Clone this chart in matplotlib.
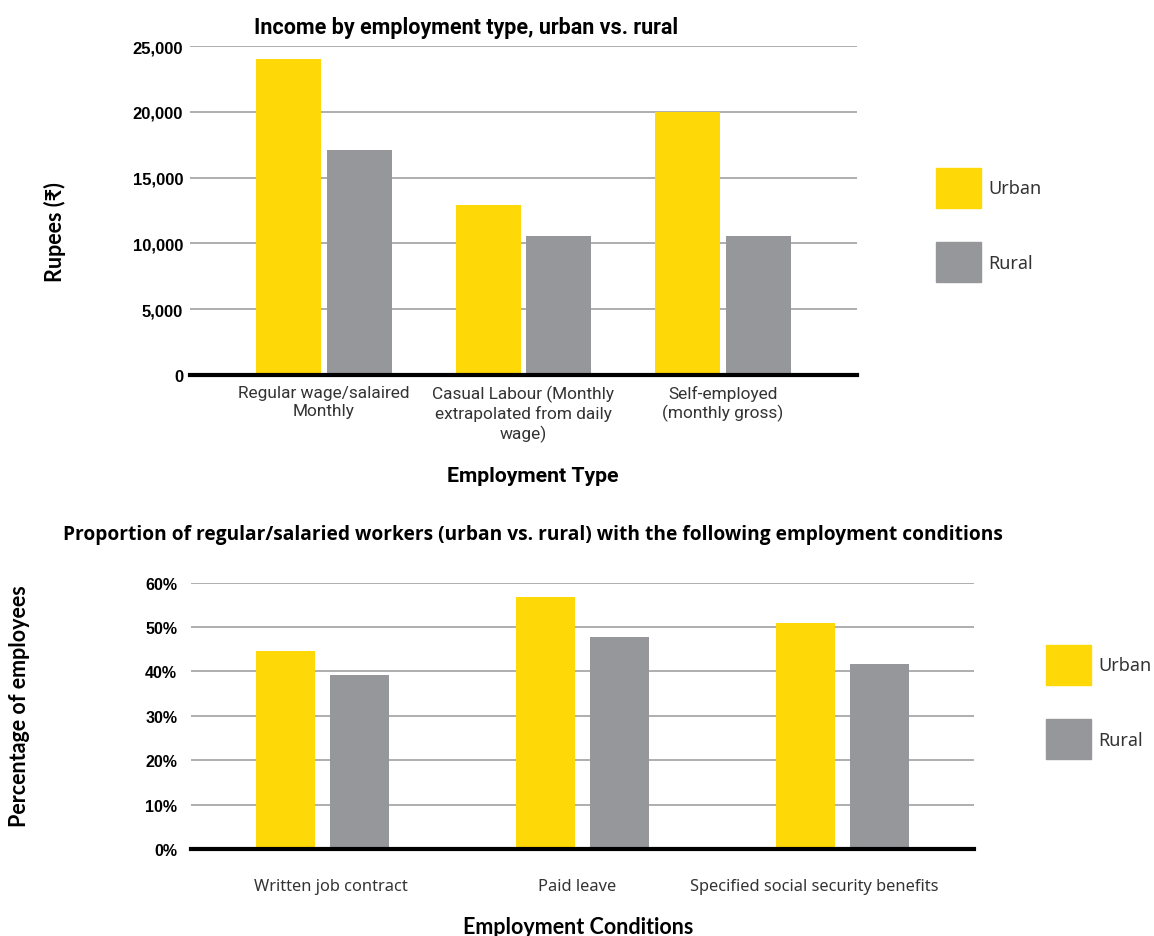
import numpy as np
import matplotlib
matplotlib.use("Agg")
import matplotlib.pyplot as plt
import matplotlib.patches as mpatches
import matplotlib.ticker as mticker

# data
income_types = ["Regular wage/salaired\nMonthly",
                "Casual Labour (Monthly\nextrapolated from daily\nwage)",
                "Self-employed\n(monthly gross)"]
urban_income = [24000, 12900, 20000]
rural_income = [17100, 10600, 10600]
income_ticks = [0, 5000, 10000, 15000, 20000, 25000]

conditions = ["Written job contract", "Paid leave", "Specified social security benefits"]
urban_pct = [44.5, 56.8, 50.9]
rural_pct = [39.1, 47.8, 41.6]
pct_ticks = [0, 10, 20, 30, 40, 50, 60]

series_names = ["Urban", "Rural"]
YELLOW = "#FFD808"
GREY = "#96979A"
GRID = "#A8A8A8"
W, H = 1154, 937

fig = plt.figure(figsize=(W / 100, H / 100), dpi=100)


def style_axes(ax):
    for s in ["top", "right", "left"]:
        ax.spines[s].set_visible(False)
    ax.spines["bottom"].set_linewidth(3)
    ax.spines["bottom"].set_color("black")
    ax.spines["bottom"].set_zorder(5)
    ax.yaxis.grid(True, color=GRID, linewidth=1.3)
    ax.set_axisbelow(True)
    ax.tick_params(axis="both", length=0)


def add_legend(ax, anchor):
    handles = [mpatches.Patch(color=YELLOW, label=series_names[0]),
               mpatches.Patch(color=GREY, label=series_names[1])]
    ax.legend(handles=handles, loc="upper left", bbox_to_anchor=anchor,
              bbox_transform=fig.transFigure, frameon=False,
              prop={"family": "Noto Sans", "size": 13},
              labelcolor="#333333", handlelength=2.5, handleheight=3.04,
              labelspacing=1.89, handletextpad=0.4, borderpad=0,
              borderaxespad=0)


# ---- top chart: income ----
ax1 = fig.add_axes([190 / W, 1 - 376 / H, 667 / W, 329 / H])
x1 = np.arange(len(income_types))
bw1, off1 = 0.326, 0.176
ax1.bar(x1 - off1, urban_income, bw1, color=YELLOW)
ax1.bar(x1 + off1, rural_income, bw1, color=GREY)
ax1.set_xlim(-0.672, 2.672)
ax1.set_ylim(0, 25000)
style_axes(ax1)
ax1.set_yticks(income_ticks)
ax1.yaxis.set_major_formatter(mticker.FuncFormatter(lambda v, p: f"{int(v):,}"))
for t in ax1.get_yticklabels():
    t.set_fontfamily("Liberation Sans")
    t.set_fontweight("bold")
    t.set_fontsize(12)
ax1.tick_params(axis="y", pad=5)
ax1.set_xticks(x1)
ax1.set_xticklabels(income_types, family="Roboto", fontsize=12.4,
                    color="#333333", linespacing=1.25)
ax1.tick_params(axis="x", pad=7)
add_legend(ax1, (936 / W, 1 - 169 / H))

fig.text(254 / W, 1 - 28 / H, "Income by employment type, urban vs. rural",
         family="Roboto", weight="bold", fontsize=15.5, ha="left", va="center")
fig.text(533 / W, 1 - 477 / H, "Employment Type", family="Roboto",
         weight="bold", fontsize=15.3, ha="center", va="center")
fig.text(55 / W, 1 - 232 / H, "Rupees (₹)", family=["Lato", "Noto Sans", "DejaVu Sans"],
         weight="bold", fontsize=15.5, rotation=90, ha="center", va="center")

# ---- bottom chart: employment conditions ----
ax2 = fig.add_axes([191 / W, 1 - 850 / H, 783 / W, 266.3 / H])
x2 = np.arange(len(conditions))
bw2, off2 = 0.227, 0.142
ax2.bar(x2 - off2, urban_pct, bw2, color=YELLOW)
ax2.bar(x2 + off2, rural_pct, bw2, color=GREY)
ax2.set_xlim(-0.504, 2.504)
ax2.set_ylim(0, 60)
style_axes(ax2)
ax2.set_yticks(pct_ticks)
ax2.set_yticklabels([f"{v}%" for v in pct_ticks], family="Liberation Sans",
                    weight="bold", fontsize=11.5)
ax2.tick_params(axis="y", pad=10)
# labels in the reference sit a little off the group centres
ax2.set_xticks(x2 + np.array([0.033, -0.02, -0.109]))
ax2.set_xticklabels(conditions, family="Noto Sans", fontsize=11.8, color="#333333")
ax2.tick_params(axis="x", pad=21)
add_legend(ax2, (1046 / W, 1 - 646 / H))

fig.text(63 / W, 1 - 535 / H,
         "Proportion of regular/salaried workers (urban vs. rural) with the following employment conditions",
         family="Open Sans", weight="bold", fontsize=13.8, ha="left", va="center")
fig.text(578 / W, 1 - 928 / H, "Employment Conditions", family="Lato",
         weight="bold", fontsize=15.5, ha="center", va="center")
fig.text(20 / W, 1 - 706 / H, "Percentage of employees", family="Lato",
         weight="bold", fontsize=15.5, rotation=90, ha="center", va="center")

fig.savefig("out.png", dpi=100, facecolor="white")
